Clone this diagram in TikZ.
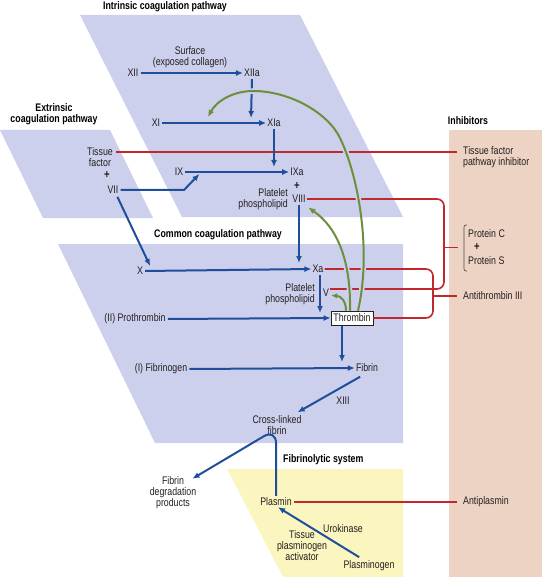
\documentclass[tikz,border=0pt]{standalone}
\usepackage{fontspec}
\setmainfont[FakeStretch=0.8]{Liberation Sans}
\usetikzlibrary{arrows.meta,calc}
\definecolor{lav}{HTML}{CDD0EC}
\definecolor{peach}{HTML}{EDD3C3}
\definecolor{yel}{HTML}{FBF6BF}
\definecolor{bl}{HTML}{1F4E9B}
\definecolor{rd}{HTML}{C1272D}
\definecolor{gr}{HTML}{6D8F3C}
\definecolor{ink}{HTML}{231F20}
\begin{document}
\begin{tikzpicture}[x=1pt,y=-1pt,
  txt/.style={inner sep=1pt, text=ink, align=center, font=\fontsize{11}{11}\selectfont},
  plus/.style={inner sep=0pt, text=ink, font=\fontsize{12}{12}\selectfont\bfseries},
  ttl/.style={inner sep=1pt, text=black, align=center, font=\fontsize{11}{11}\selectfont\bfseries},
  act/.style={draw=bl, line width=2pt, shorten <=1pt, -{Latex[length=7pt,width=6pt]}},
  inh/.style={draw=rd, line width=1.6pt},
  fb/.style={draw=gr, line width=2pt, -{Latex[length=7pt,width=6pt]}},
  halo/.style={draw=lav, line width=5.5pt},
  brk/.style={draw=ink!80, line width=0.7pt, rounded corners=2pt},
  tbox/.style={draw=ink, line width=0.6pt, fill=white, inner xsep=2.5pt, inner ysep=0pt, minimum height=14pt, text=ink, font=\fontsize{11}{11}\selectfont}
]
\useasboundingbox (0,0) rectangle (542,577);
% backgrounds
\fill[lav] (80,15) -- (300,15) -- (403,217) -- (182,217) -- cycle;
\fill[lav] (0,130) -- (110,130) -- (153,218) -- (43,218) -- cycle;
\fill[lav] (58,244) -- (403,244) -- (403,443) -- (155,443) -- cycle;
\fill[yel] (227,469) -- (403,469) -- (403,577) -- (283,577) -- cycle;
\fill[peach] (449,130) rectangle (542,577);

% titles
\node[ttl] (tIn) at (165,7) {Intrinsic coagulation pathway};
\node[ttl] (tEx) at (54,114) {Extrinsic\\coagulation pathway};
\node[ttl, anchor=west] (tCo) at (153,235) {Common coagulation pathway};
\node[ttl] (tIh) at (468,121) {Inhibitors};
\node[ttl, anchor=west] (tFi) at (282,460) {Fibrinolytic system};

% intrinsic
\node[txt] (XII) at (133,73) {XII};
\node[txt] (surf) at (190,57.5) {Surface\\(exposed collagen)};
\node[txt] (XIIa) at (252,73) {XIIa};
\node[txt] (XI) at (156,123) {XI};
\node[txt] (XIa) at (274,123) {XIa};
\node[txt] (IX) at (179,172) {IX};
\node[txt] (IXa) at (297,172) {IXa};
\node[plus] (pl1) at (297,186) {+};
\node[txt] (VIII) at (299,199) {VIII};
\node[txt, anchor=east, align=right] (pp1) at (289,199.5) {Platelet\\phospholipid};
% extrinsic
\node[txt] (TF) at (100,157.5) {Tissue\\factor};
\node[plus] (pl2) at (107,175) {+};
\node[txt] (VII) at (113,190) {VII};
% common
\node[txt] (X) at (140,271) {X};
\node[txt] (Xa) at (318,269) {Xa};
\node[txt, anchor=east, align=right] (pp2) at (316,294.5) {Platelet\\phospholipid};
\node[txt] (V) at (326,292.5) {V};
\node[tbox] (thr) at (352,318) {Thrombin};
\node[txt] (pro) at (135,319) {(II) Prothrombin};
\node[txt] (fbg) at (161,369) {(I) Fibrinogen};
\node[txt] (fbn) at (367,368) {Fibrin};
\node[txt] (XIII) at (343,401) {XIII};
\node[txt] (clf) at (277,425) {Cross-linked\\fibrin};
% fibrinolytic
\node[txt] (fdp) at (173,493) {Fibrin\\degradation\\products};
\node[txt] (pls) at (276,502) {Plasmin};
\node[txt] (uro) at (343,529) {Urokinase};
\node[txt] (tpa) at (302,546) {Tissue\\plasminogen\\activator};
\node[txt] (plg) at (369,566) {Plasminogen};
% inhibitors
\node[txt, anchor=west, align=left] (tfpi) at (462,157.5) {Tissue factor\\pathway inhibitor};
\node[txt, anchor=west] (pC) at (467,234) {Protein C};
\node[plus] (pP) at (477,247) {+};
\node[txt, anchor=west] (pS) at (467,261) {Protein S};
\node[txt, anchor=west] (at3) at (462,296) {Antithrombin III};
\node[txt, anchor=west] (ap) at (462,502) {Antiplasmin};

\coordinate (brkmid) at ($(pC.west)!0.5!(pS.west)$);
\draw[brk] ($(pC.west)+(0,-9)$) -- ($(pC.west)+(-3,-9)$) -- ($(pS.west)+(-3,10)$) -- ($(pS.west)+(0,10)$);

% inhibitor (red) lines
\draw[inh, shorten >=5pt] ($(TF.east)+(2,-5.5)$) -- ($(tfpi.west)+(0,-5.5)$);
\coordinate (r8a) at (444,199);
\coordinate (r8b) at (444,289);
\draw[inh, rounded corners=7pt] (VIII.east) -- (VIII.east -| r8a) -- (r8b) -- ($(V.east)+(0,-3.5)$);
\draw[inh] (brkmid -| r8a) -- ($(brkmid)+(-9,0)$);
\coordinate (rXa) at (433,269);
\draw[inh, rounded corners=7pt] (Xa.east) -- (Xa.east -| rXa) -- (rXa |- thr.east) -- (thr.east);
\draw[inh, shorten >=5pt] (at3.west -| rXa) -- (at3.west);
\draw[inh, shorten >=5pt] ($(pls.east)+(1,0)$) -- (ap.west);

% activation (blue) arrows
\draw[act] (XII.east) -- (XIIa.west);
\draw[act] (XIIa.south) -- ($(XIIa.south |- XIa.center)+(-1,-5)$);
\draw[act] (XI.east) -- (XIa.west);
\draw[act] (XIa.south) -- ($(XIa.south |- IXa.center)+(0,-5)$);
\draw[act] (IX.east) -- (IXa.west);
\coordinate (k7) at (184,190);
\draw[act] (VII.east) -- (k7) -- ($(IX.east)+(15,2)$);
\draw[act] ($(VII.south)+(4,1)$) -- ($(X.north east)+(6,0)$);
\draw[act] (X.east) -- (Xa.west);
\draw[act] (VIII.south) -- ($(VIII.south |- Xa.center)+(0,-6)$);
\draw[act] ($(Xa.south)+(2,0)$) -- ($(Xa.south |- thr.center)+(2,-5)$);
\draw[act] (pro.east) -- (thr.west);
\draw[act] ($(thr.south)+(-10,0)$) -- ($(thr.south |- fbn.center)+(-10,-6)$);
\draw[act] (fbg.east) -- (fbn.west);
\draw[act] ($(fbn.south)+(-6,3)$) -- ($(clf.north east)+(-5,-2)$);
\coordinate (bend) at (276,429);
\draw[act, rounded corners=14pt] (pls.north) -- (pls.north |- bend) -- ($(fdp.north east)+(-5,3)$);
\draw[act] ($(plg.north)+(-9,-2)$) -- ($(pls.south)+(2,0)$);

% feedback (green) arrows
\coordinate (gXI) at (208,117);
\begin{scope}
\clip (80,15) -- (300,15) -- (403,217) -- (182,217) -- cycle
      (58,244) -- (403,244) -- (403,443) -- (155,443) -- cycle;
\draw[halo] ($(thr.north)+(6,0)$) .. controls (372,250) and (358,175) .. (340,138)
   .. controls (328,113) and (290,91) .. (253,91) .. controls (232,91) and (216,102) .. (gXI);
\draw[halo] ($(thr.north)+(-2,0)$) .. controls (351,262) and (338,228) .. ($(VIII.south east)+(1.5,3.5)$);
\end{scope}
\draw[fb] ($(thr.north)+(6,0)$) .. controls (372,250) and (358,175) .. (340,138)
   .. controls (328,113) and (290,91) .. (253,91) .. controls (232,91) and (216,102) .. (gXI);
\draw[fb] ($(thr.north)+(-2,0)$) .. controls (351,262) and (338,228) .. ($(VIII.south east)+(1.5,3.5)$);
\draw[fb, -{Latex[length=6pt,width=5.5pt]}] ($(thr.north)+(-6,0)$) .. controls (346,301) and (341,296) .. ($(V.east)+(1,3)$);
\end{tikzpicture}
\end{document}
